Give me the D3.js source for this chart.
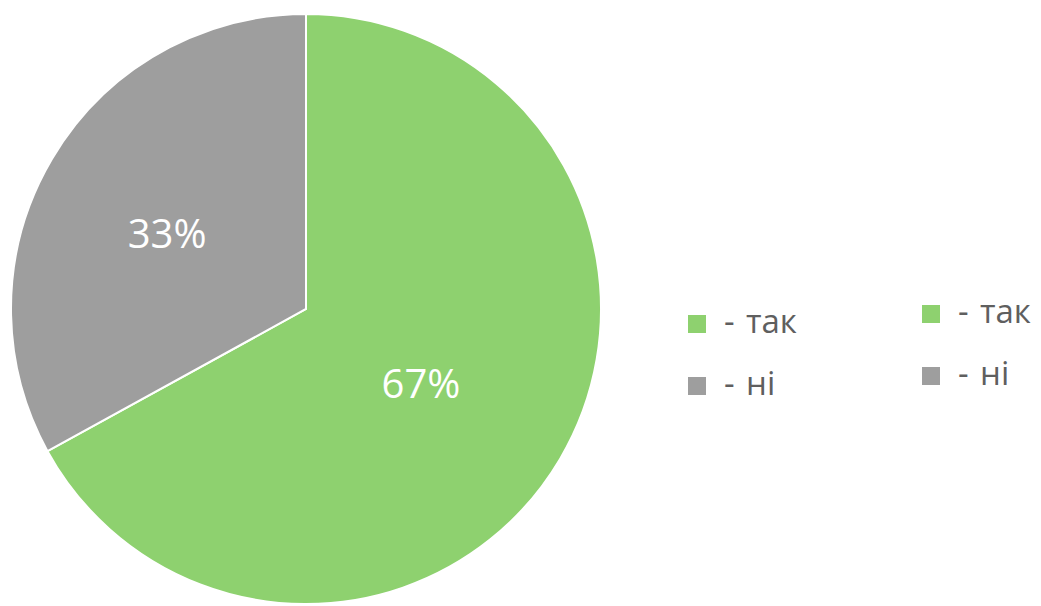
<!DOCTYPE html>
<html>
<head>
<meta charset="utf-8">
<script src="https://cdn.jsdelivr.net/npm/d3@7"></script>
<style>
  body { margin: 0; background: #fff; }
  svg { display: block; }
</style>
</head>
<body>
<svg id="chart" width="1041" height="606"></svg>
<script>
// Data
const labels = ["так", "ні"];
const values = [67, 33];
const colors = ["#8ed16f", "#9e9e9e"];

// Setup
const svg = d3.select("#chart");
const cx = 306, cy = 309, radius = 295;

const pie = d3.pie().sort(null).value(d => d.value);
const arc = d3.arc().innerRadius(0).outerRadius(radius);

const slices = labels.map((l, i) => ({ label: l, value: values[i], color: colors[i] }));
const arcs = pie(slices);

const g = svg.append("g").attr("transform", `translate(${cx},${cy})`);

g.selectAll("path")
    .data(arcs)
    .join("path")
    .attr("d", arc)
    .attr("fill", d => d.data.color)
    .attr("stroke", "#fff")
    .attr("stroke-width", 2);

// Percent labels
const total = d3.sum(values);
g.selectAll("text")
    .data(arcs)
    .join("text")
    .attr("transform", d => `translate(${arc.centroid(d)})`)
    .attr("text-anchor", "middle")
    .attr("dx", -12)
    .attr("dy", "0.36em")
    .attr("font-family", "'Open Sans', sans-serif")
    .attr("font-size", "40px")
    .attr("font-weight", 500)
    .attr("fill", "#fff")
    .text(d => Math.round(d.data.value / total * 100) + "%");

// Legends (two copies, as in the original)
function legend(x, y, step) {
    const lg = svg.append("g").attr("transform", `translate(${x},${y})`);
    const item = lg.selectAll("g")
        .data(slices)
        .join("g")
        .attr("transform", (d, i) => `translate(0,${i * step})`);

    item.append("rect")
        .attr("width", 18)
        .attr("height", 18)
        .attr("fill", d => d.color);

    const t = item.append("text")
        .attr("y", 18)
        .attr("font-family", "'Open Sans', sans-serif")
        .attr("font-size", "33px")
        .attr("fill", "#5f5f5f");
    t.append("tspan").attr("x", 36).text("-");
    t.append("tspan").attr("x", 58).text(d => d.label);
}

legend(688, 315, 62);
legend(922, 305, 62);
</script>
</body>
</html>
